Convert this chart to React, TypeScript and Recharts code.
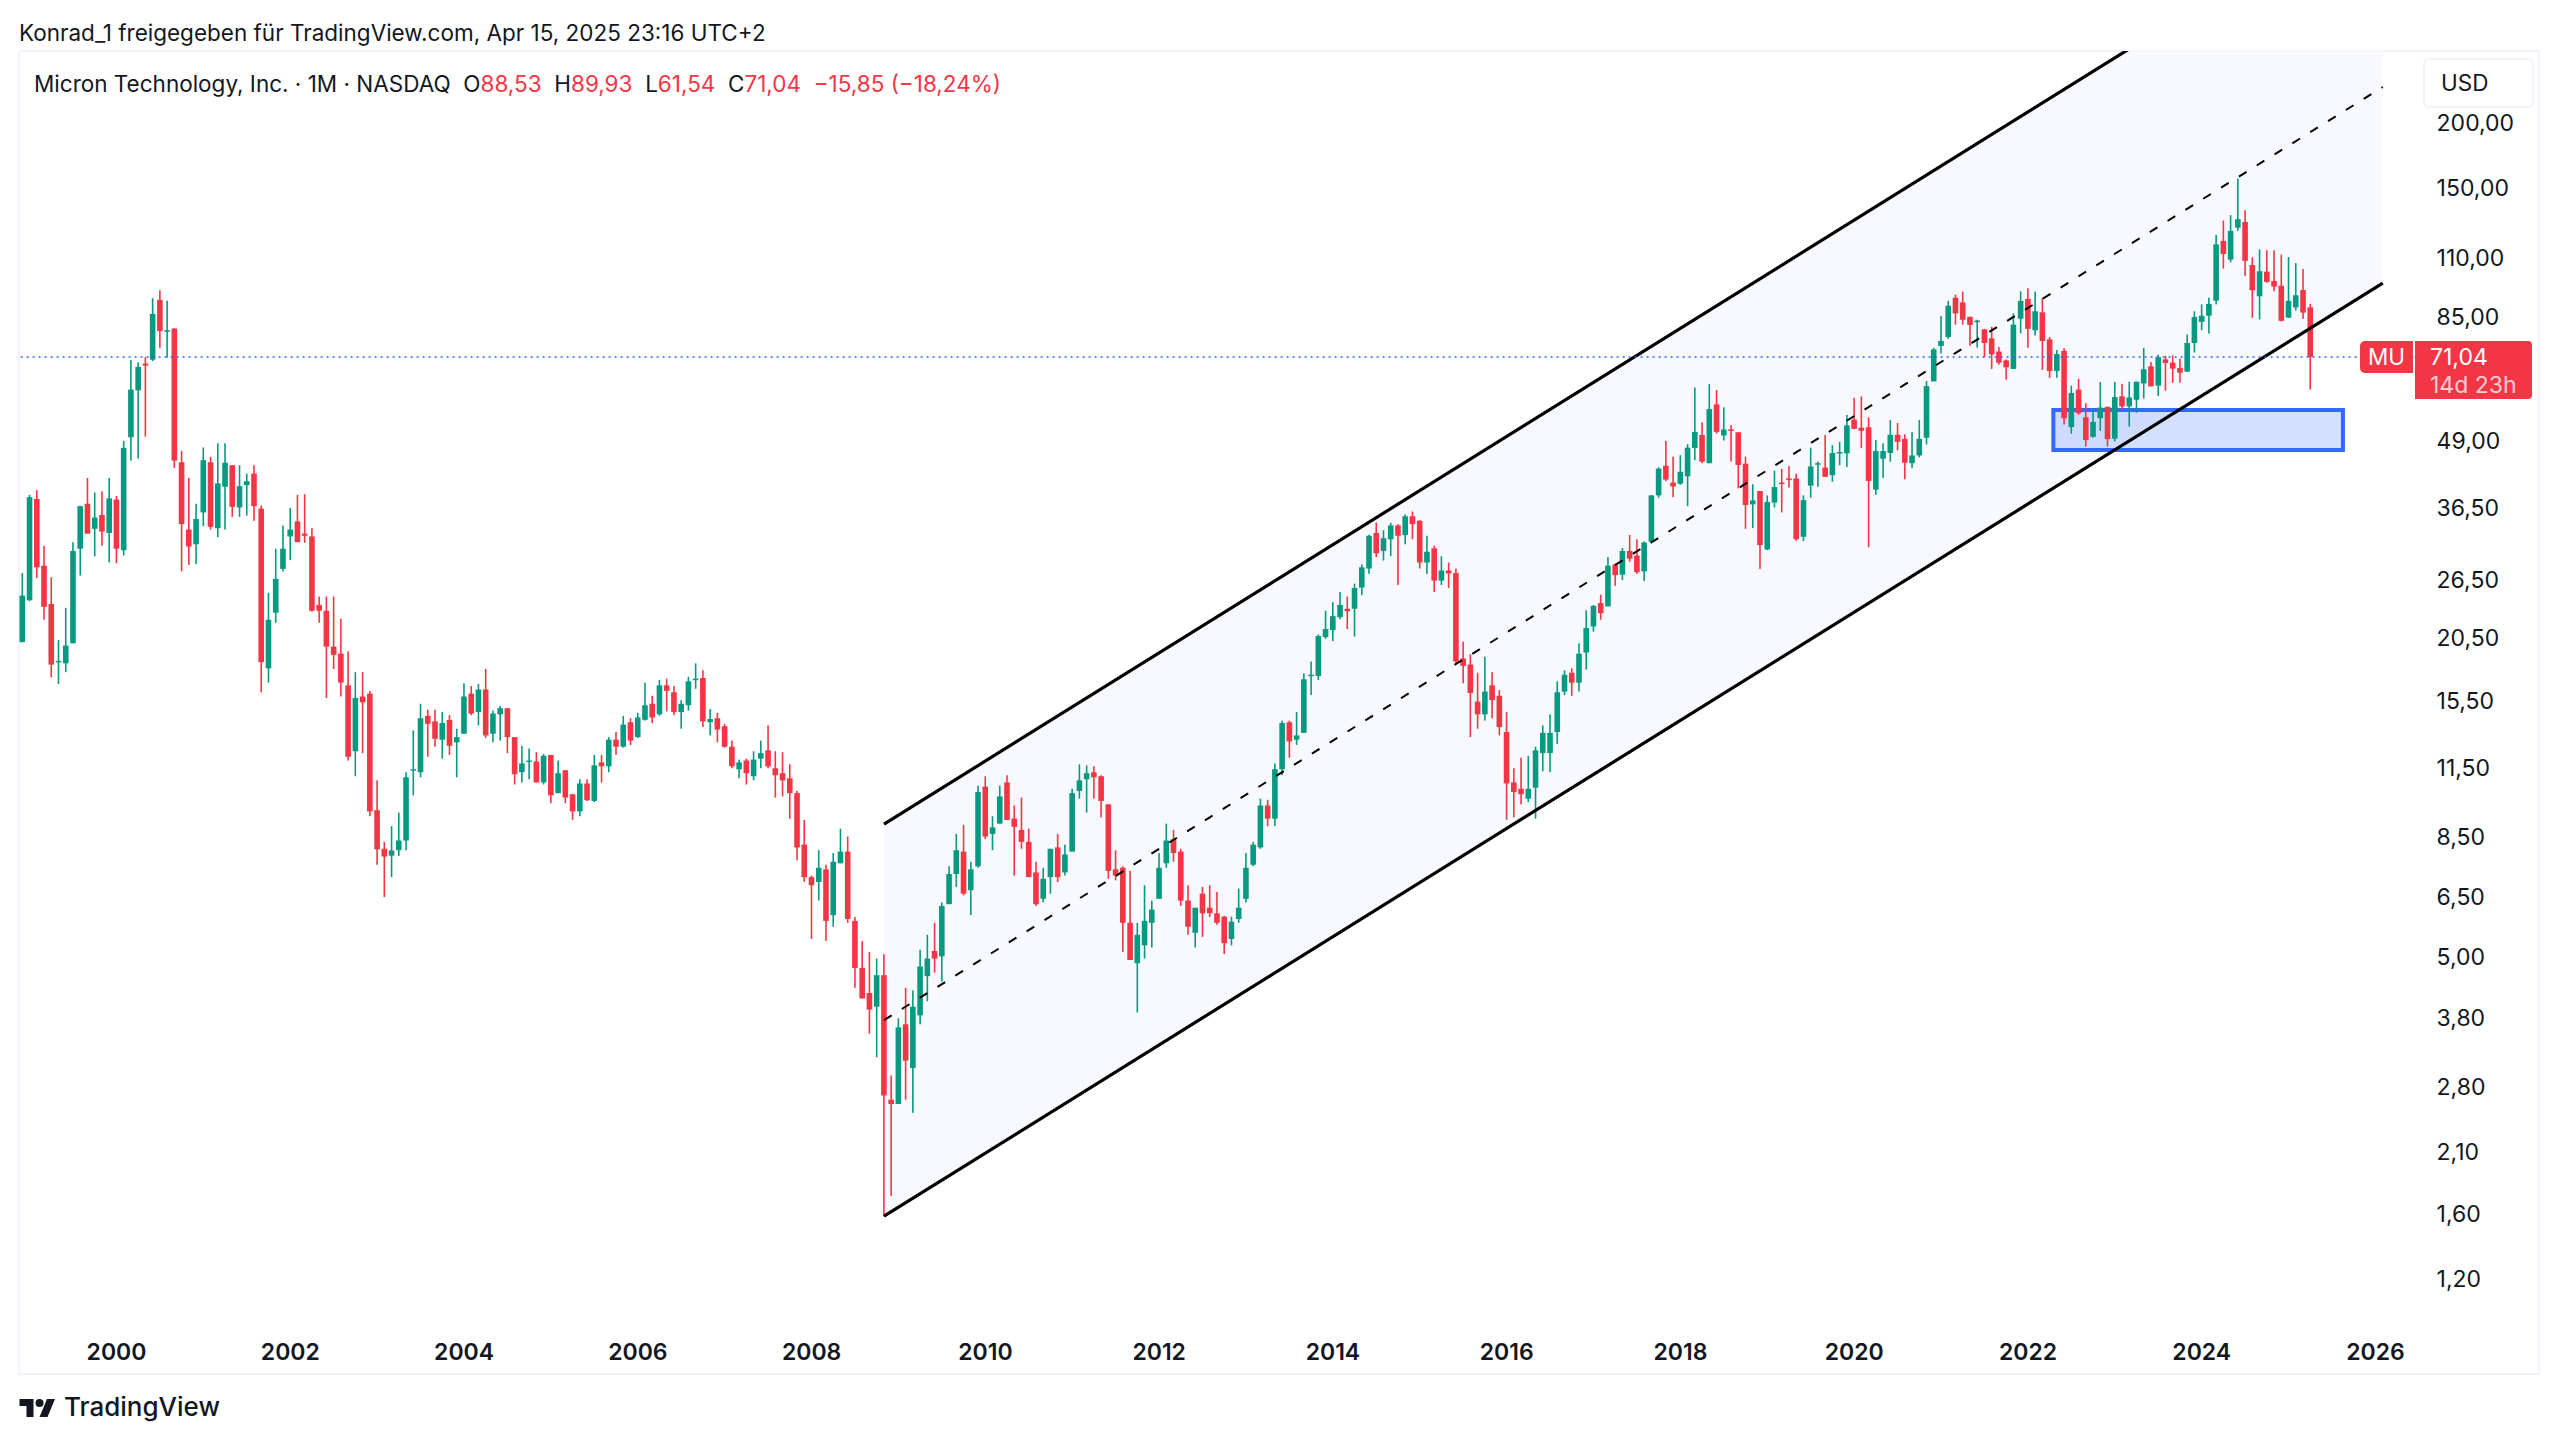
// MU monthly candles on a log price scale, with a hand-drawn parallel channel and demand zone.
import { Area, Bar, ComposedChart, Line, ReferenceArea, ReferenceLine, XAxis, YAxis } from 'recharts';

const FONT = 'Inter, "Liberation Sans", sans-serif';
const UP = '#089981';
const DOWN = '#f23645';
const INK = '#131722';

// Dec 1998 .. Apr 2025
const opens = [
  20.1, 24.2, 37.9, 28.2, 23.8, 18.4, 18.3, 20.0, 30.4, 37.1,
  33.2, 35.3, 32.6, 37.8, 30.2, 49.8, 61.3, 69.0, 70.2, 91.5,
  79.7, 80.6, 44.6, 33.1, 31.0, 35.7, 44.6, 33.3, 40.0, 44.0,
  36.5, 40.3, 42.4, 36.3, 17.9, 22.9, 27.8, 32.1, 34.3, 32.5,
  32.1, 23.7, 23.1, 19.7, 19.1, 16.6, 12.4, 15.8, 16.0, 9.55,
  8.05, 7.81, 8.0, 8.35, 11.4, 11.3, 14.5, 14.15, 13.05, 14.25,
  12.9, 13.4, 16.0, 14.75, 16.3, 13.4, 14.6, 15.0, 13.2, 11.3,
  11.85, 11.85, 10.8, 12.2, 10.3, 11.4, 10.25, 9.5, 10.75, 9.95,
  11.8, 11.6, 13.05, 12.65, 14.1, 13.2, 14.25, 15.3, 14.6, 16.6,
  16.1, 14.75, 15.2, 17.05, 17.15, 14.1, 14.35, 13.85, 12.65, 11.45,
  11.9, 11.1, 12.0, 12.45, 11.5, 11.25, 11.0, 10.3, 8.2, 7.1,
  6.95, 7.35, 6.0, 7.55, 7.95, 5.85, 4.75, 4.25, 4.0, 4.6,
  2.65, 2.6, 3.7, 3.05, 3.85, 4.58, 5.12, 5.0, 6.3, 7.2,
  7.95, 6.7, 7.45, 10.6, 8.6, 9.0, 10.8, 9.2, 8.75, 8.3,
  7.25, 6.45, 7.1, 8.1, 7.25, 7.95, 10.4, 10.95, 11.3, 11.1,
  9.8, 7.35, 7.4, 5.8, 4.85, 5.25, 5.8, 6.45, 7.55, 8.4,
  7.95, 6.4, 5.55, 6.6, 6.2, 6.05, 5.96, 5.4, 5.9, 6.45,
  7.5, 8.1, 9.75, 9.2, 11.45, 14.1, 13.05, 13.45, 17.3, 17.3,
  20.55, 21.2, 22.45, 23.3, 23.3, 25.6, 27.85, 32.6, 30.1, 31.7,
  33.7, 32.3, 35.1, 34.4, 28.6, 30.45, 26.4, 27.6, 27.3, 18.7,
  18.2, 15.45, 14.6, 16.6, 15.85, 13.5, 10.8, 10.5, 10.05, 10.55,
  12.3, 12.3, 13.5, 16.15, 17.55, 16.8, 19.2, 21.55, 23.9, 23.55,
  28.35, 27.1, 30.1, 29.5, 27.5, 31.35, 38.5, 43.9, 40.75, 40.55,
  41.9, 47.5, 50.3, 44.4, 57.6, 50.2, 51.55, 50.9, 44.3, 37.0,
  39.25, 30.3, 37.3, 40.75, 41.5, 41.5, 32.05, 40.2, 44.1, 43.55,
  42.1, 46.4, 46.4, 53.85, 51.95, 52.05, 39.5, 45.3, 46.45, 50.35,
  49.45, 44.4, 45.95, 49.7, 63.8, 74.6, 77.6, 92.4, 90.5, 84.9,
  83.1, 80.3, 77.2, 72.8, 70.0, 67.4, 84.2, 91.9, 80.0, 86.6,
  76.8, 66.8, 73.0, 52.1, 61.5, 54.4, 49.9, 54.2, 57.0, 49.5,
  59.7, 57.1, 58.8, 63.2, 68.2, 62.6, 70.3, 69.3, 67.7, 66.6,
  75.6, 83.0, 85.3, 91.2, 118.8, 109.4, 126.0, 129.2, 106.8, 93.0,
  103.7, 99.5, 97.4, 84.6, 88.5, 95.6, 88.53
];
const closes = [
  24.7, 38.2, 28.0, 23.5, 18.2, 18.5, 19.8, 30.1, 36.7, 32.5,
  34.9, 32.8, 38.0, 30.4, 47.5, 61.5, 68.0, 68.4, 86.0, 79.7,
  80.0, 44.9, 33.9, 30.7, 34.7, 45.0, 33.5, 40.6, 44.5, 36.6,
  40.1, 41.0, 36.7, 18.4, 22.2, 26.6, 30.4, 33.1, 31.3, 32.2,
  23.1, 23.1, 19.7, 19.0, 16.8, 12.1, 15.7, 15.4, 9.5, 8.03,
  7.78, 7.99, 8.35, 11.05, 11.45, 14.35, 14.0, 13.1, 14.05, 12.7,
  13.2, 15.8, 14.65, 16.3, 13.3, 14.65, 15.0, 13.2, 11.2, 11.75,
  11.9, 10.8, 12.15, 10.2, 11.25, 10.1, 9.5, 10.75, 9.98, 11.65,
  11.6, 13.05, 12.65, 13.95, 13.0, 14.4, 15.2, 14.4, 16.6, 16.2,
  14.75, 15.3, 16.9, 17.1, 14.15, 14.3, 13.65, 12.65, 11.6, 11.8,
  11.25, 11.95, 12.3, 11.6, 11.15, 10.9, 10.3, 8.1, 7.1, 6.85,
  7.4, 5.85, 7.6, 7.95, 5.9, 4.75, 4.15, 3.95, 4.6, 2.7,
  2.6, 3.65, 3.15, 4.0, 4.78, 4.95, 4.95, 6.25, 7.2, 8.0,
  6.6, 7.35, 10.35, 8.5, 8.85, 10.15, 9.15, 8.87, 8.3, 7.1,
  6.3, 7.05, 8.05, 7.1, 7.85, 10.3, 10.9, 11.25, 11.05, 9.95,
  7.3, 7.15, 5.8, 4.92, 5.5, 5.85, 6.15, 7.4, 8.35, 7.9,
  6.4, 5.7, 6.2, 6.05, 6.05, 5.8, 5.3, 5.83, 6.2, 7.4,
  8.2, 9.75, 9.2, 11.45, 14.05, 12.95, 13.3, 17.05, 17.4, 20.65,
  21.3, 22.55, 23.7, 23.05, 25.55, 28.0, 32.2, 29.8, 31.85, 33.7,
  32.2, 35.1, 33.9, 28.6, 30.0, 26.4, 27.6, 27.25, 18.45, 18.1,
  16.05, 14.6, 16.15, 15.55, 13.8, 10.75, 10.35, 10.25, 10.5, 12.45,
  13.45, 13.45, 16.1, 17.4, 16.8, 19.1, 21.4, 23.6, 22.85, 28.2,
  27.05, 30.1, 29.1, 27.4, 31.25, 38.5, 43.35, 41.3, 40.05, 42.75,
  47.55, 51.0, 44.7, 56.4, 51.0, 51.55, 51.3, 44.05, 36.9, 37.65,
  30.9, 37.4, 39.95, 40.5, 41.2, 31.7, 37.7, 43.75, 44.4, 41.8,
  46.45, 46.65, 52.5, 51.7, 51.25, 41.05, 46.85, 46.85, 50.35, 48.8,
  44.5, 45.95, 49.45, 62.45, 73.5, 76.3, 89.2, 86.2, 83.8, 81.9,
  83.5, 75.6, 71.9, 69.3, 67.9, 82.0, 91.1, 80.5, 87.0, 76.3,
  66.8, 72.0, 54.2, 60.6, 55.4, 49.2, 53.3, 56.8, 49.4, 59.5,
  57.1, 59.4, 63.7, 67.3, 62.4, 71.0, 69.2, 67.5, 66.3, 75.6,
  84.8, 85.3, 89.9, 117.0, 112.1, 124.2, 130.8, 108.8, 95.5, 103.9,
  99.1, 97.1, 83.4, 91.1, 93.4, 86.5, 71.04
];
const highs = [
  27.3, 38.6, 39.4, 30.8, 26.8, 20.3, 23.4, 31.3, 36.8, 41.6,
  39.0, 39.2, 41.6, 38.4, 49.0, 70.1, 69.4, 71.1, 92.2, 95.5,
  91.2, 80.7, 46.9, 41.6, 37.1, 47.6, 45.7, 48.5, 48.5, 44.0,
  44.0, 42.4, 44.0, 36.8, 25.0, 30.4, 33.7, 36.4, 38.6, 38.7,
  33.3, 24.6, 24.6, 24.6, 22.3, 19.3, 17.6, 17.6, 16.2, 10.9,
  8.3, 8.9, 9.45, 11.3, 13.6, 15.3, 14.9, 14.9, 14.75, 14.55,
  13.7, 16.75, 16.55, 16.7, 17.85, 14.85, 15.15, 15.0, 13.2, 12.7,
  12.55, 12.35, 12.25, 12.2, 11.9, 11.4, 10.25, 10.95, 10.95, 12.2,
  12.2, 13.2, 13.5, 14.5, 14.35, 14.7, 16.8, 15.85, 17.0, 17.1,
  16.55, 15.55, 17.25, 18.3, 17.75, 14.95, 14.7, 14.0, 13.0, 11.95,
  12.0, 12.4, 13.0, 13.9, 12.4, 12.35, 11.7, 10.4, 9.15, 7.15,
  8.0, 7.5, 7.9, 8.8, 8.5, 5.95, 5.35, 5.1, 4.95, 5.05,
  2.95, 3.8, 4.35, 4.3, 5.15, 5.5, 5.8, 6.35, 7.45, 8.6,
  8.95, 7.6, 10.65, 11.1, 9.3, 10.65, 11.15, 9.75, 10.1, 8.8,
  7.6, 7.4, 8.05, 8.6, 8.2, 10.5, 11.7, 11.65, 11.6, 11.15,
  9.8, 8.0, 7.45, 7.3, 5.8, 6.85, 6.4, 7.9, 9.0, 8.75,
  8.05, 6.85, 6.2, 6.8, 6.85, 6.65, 5.98, 5.96, 6.75, 7.9,
  8.3, 10.05, 10.0, 11.75, 14.2, 14.2, 14.75, 17.5, 18.45, 20.8,
  23.1, 24.0, 25.1, 24.6, 26.05, 28.35, 32.35, 34.15, 33.0, 34.1,
  33.9, 35.4, 35.85, 34.5, 32.2, 30.8, 29.4, 28.6, 27.85, 20.15,
  19.05, 17.55, 18.85, 17.6, 16.25, 14.75, 11.5, 12.05, 12.15, 12.65,
  13.9, 14.6, 16.9, 17.75, 17.9, 20.0, 23.15, 23.7, 24.8, 29.3,
  28.45, 30.5, 32.3, 31.7, 31.4, 38.5, 43.6, 49.0, 45.7, 46.0,
  48.3, 62.1, 53.2, 63.0, 61.4, 56.85, 52.55, 50.9, 45.7, 40.45,
  39.25, 38.5, 42.95, 43.3, 43.85, 42.4, 38.5, 47.55, 44.7, 50.3,
  48.1, 48.8, 55.0, 59.3, 59.65, 54.4, 49.2, 48.5, 53.75, 53.05,
  50.45, 51.0, 53.75, 63.9, 74.0, 85.2, 91.1, 93.7, 94.9, 84.9,
  83.8, 80.5, 81.2, 74.3, 70.3, 86.2, 95.0, 96.3, 94.9, 92.2,
  77.6, 73.3, 73.9, 62.6, 64.5, 57.9, 56.4, 63.6, 57.0, 63.6,
  63.1, 63.7, 63.7, 74.0, 69.5, 71.8, 71.4, 71.6, 70.5, 78.5,
  87.0, 89.7, 92.4, 122.0, 130.0, 133.2, 156.6, 136.1, 110.5, 114.4,
  114.0, 114.0, 111.8, 110.6, 107.7, 104.9, 89.93
];
const lows = [
  20.1, 24.1, 26.7, 22.2, 17.2, 16.7, 17.6, 20.0, 27.0, 32.5,
  29.4, 30.8, 28.6, 28.5, 29.5, 44.9, 45.3, 49.9, 69.8, 74.0,
  70.8, 43.5, 27.5, 28.3, 28.4, 33.6, 33.1, 32.0, 33.1, 35.0,
  35.0, 35.2, 34.4, 16.1, 16.8, 21.9, 27.5, 28.9, 31.3, 31.2,
  23.0, 21.9, 15.7, 17.85, 15.8, 11.9, 11.1, 12.3, 9.3, 7.5,
  6.5, 7.1, 7.8, 8.0, 10.2, 11.05, 12.1, 12.65, 12.0, 12.2,
  11.05, 13.4, 14.55, 13.9, 13.15, 12.9, 13.0, 12.3, 10.7, 10.8,
  10.95, 10.8, 10.7, 9.85, 10.3, 9.85, 9.15, 9.3, 9.95, 9.9,
  10.8, 11.3, 12.2, 12.6, 12.75, 13.15, 14.2, 14.05, 14.5, 14.8,
  14.55, 13.7, 14.85, 16.35, 13.8, 13.3, 12.9, 12.6, 11.5, 11.0,
  10.7, 10.9, 11.5, 11.5, 10.1, 10.15, 9.2, 7.65, 6.95, 5.4,
  6.4, 5.35, 5.7, 7.55, 5.8, 4.35, 4.15, 3.55, 3.2, 1.58,
  1.73, 2.6, 2.65, 2.5, 3.7, 4.1, 4.65, 4.47, 6.3, 6.8,
  6.55, 6.0, 7.4, 8.4, 8.0, 9.0, 9.15, 7.15, 8.05, 7.1,
  6.25, 6.35, 6.6, 6.95, 7.15, 7.95, 10.05, 9.45, 10.05, 9.25,
  7.05, 7.0, 5.1, 4.92, 3.9, 4.95, 5.2, 6.45, 7.4, 7.6,
  6.25, 5.5, 5.2, 5.45, 5.95, 5.75, 5.05, 5.25, 5.8, 6.35,
  7.45, 8.05, 8.9, 8.9, 11.15, 12.05, 12.75, 13.45, 15.9, 17.0,
  20.4, 20.2, 22.25, 21.3, 20.6, 24.75, 27.2, 29.3, 28.85, 29.45,
  25.9, 31.0, 31.7, 27.85, 27.2, 25.1, 25.9, 25.55, 18.35, 16.75,
  13.2, 13.7, 14.2, 14.35, 13.3, 9.15, 9.25, 9.8, 9.9, 9.2,
  11.35, 11.3, 12.8, 15.9, 15.85, 16.15, 17.8, 21.05, 22.2, 23.55,
  25.8, 26.45, 28.7, 27.2, 26.35, 31.25, 38.1, 41.0, 38.2, 40.35,
  36.7, 45.0, 44.4, 44.4, 50.6, 49.1, 44.75, 39.7, 33.2, 33.3,
  27.8, 30.2, 36.5, 35.7, 39.85, 31.5, 31.45, 38.1, 40.0, 41.8,
  40.9, 44.0, 43.65, 51.6, 47.45, 30.6, 38.6, 41.6, 44.7, 47.0,
  41.35, 43.45, 45.55, 48.25, 63.8, 72.2, 77.0, 82.0, 82.0, 74.7,
  74.1, 71.0, 67.4, 68.7, 64.3, 67.4, 78.9, 74.0, 78.2, 67.1,
  64.8, 64.8, 52.7, 50.6, 55.0, 47.8, 49.7, 51.2, 47.8, 48.9,
  56.3, 52.2, 55.5, 59.1, 62.4, 59.8, 61.2, 63.4, 63.4, 66.5,
  72.5, 80.0, 78.8, 89.7, 105.1, 108.0, 124.3, 101.7, 84.5, 83.9,
  98.7, 95.0, 83.2, 84.5, 87.3, 84.1, 61.54
];

const priceTicks = [200, 150, 110, 85, 49, 36.5, 26.5, 20.5, 15.5, 11.5, 8.5, 6.5, 5, 3.8, 2.8, 2.1, 1.6, 1.2];
const yearTicks = ['2000', '2002', '2004', '2006', '2008', '2010', '2012', '2014', '2016', '2018', '2020', '2022', '2024', '2026'];

// channel anchors: month index and price at both ends
const channelMonths = [119, 326];
const channelUpper = [8.98, 559.5];
const channelMiddle = [3.77, 234.9];
const channelLower = [1.582, 98.6];

const zoneMonths = [281, 320];
const zonePrices = [47.05, 56.2];
const lastPrice = 71.04;

const EXTRA_MONTHS = 15; // blank months right of the last candle

function monthKey(i: number) {
  const total = 1998 * 12 + 11 + i;
  const year = Math.floor(total / 12);
  const month = total % 12;
  return month === 0 ? String(year) : `${year}-${month + 1}`;
}

const rows = Array.from({ length: opens.length + EXTRA_MONTHS }, (_, i) => {
  const row: Record<string, unknown> = { month: monthKey(i) };
  if (i < opens.length) {
    row.range = [lows[i], highs[i]];
    row.open = opens[i];
    row.close = closes[i];
    row.high = highs[i];
    row.low = lows[i];
  }
  const end = channelMonths.indexOf(i);
  if (end >= 0) {
    row.upper = channelUpper[end];
    row.middle = channelMiddle[end];
    row.lower = channelLower[end];
    row.band = [channelLower[end], channelUpper[end]];
  }
  return row;
});

function Candle(props: any) {
  const { x, y, width, height, payload } = props;
  if (payload?.open === undefined) return null;
  const { open, close, high, low } = payload;
  const h = Math.abs(height);
  // bar spans low..high on a log axis, so place the body by log ratio
  const toY = (p: number) => y + (h * Math.log(high / p)) / Math.log(high / low);
  const top = toY(Math.max(open, close));
  const bottom = toY(Math.min(open, close));
  const cx = x + width / 2;
  const color = close >= open ? UP : DOWN;
  return (
    <g>
      <rect x={cx - 0.8} y={y} width={1.6} height={h} fill={color} />
      <rect x={cx - 2.8} y={top} width={5.6} height={Math.max(bottom - top, 1.5)} fill={color} />
    </g>
  );
}

const abs = (left: number, top: number): React.CSSProperties => ({ position: 'absolute', left, top, whiteSpace: 'pre' });
const num = (v: string) => <span style={{ color: DOWN }}>{v}</span>;

export default function App() {
  return (
    <div style={{ position: 'absolute', left: 0, top: 0, width: 2560, height: 1442, background: '#fff', overflow: 'hidden', fontFamily: FONT, color: INK }}>
      <div style={{ ...abs(18, 50), width: 2522, height: 1325, border: '2px solid #f0f3fa', boxSizing: 'border-box' }} />
      <div style={{ position: 'absolute', left: 0, top: 0 }}>
        <ComposedChart
          width={2560}
          height={1442}
          data={rows}
          barCategoryGap={0}
          margin={{ top: 51, right: 19.4, bottom: 67, left: 18.8 }}
        >
          <XAxis
            dataKey='month'
            ticks={yearTicks}
            interval={0}
            axisLine={false}
            tickLine={false}
            height={55}
            tickMargin={18}
            tick={{ fontSize: 23, fontWeight: 600, fill: INK, fontFamily: FONT }}
          />
          <YAxis
            orientation='right'
            scale='log'
            domain={[0.999, 275.5]}
            allowDataOverflow
            ticks={priceTicks}
            interval={0}
            width={118}
            axisLine={false}
            tickLine={false}
            tickMargin={8}
            tickFormatter={(v: number) => v.toFixed(2).replace('.', ',')}
            tick={{ fontSize: 23, fill: INK, fontFamily: FONT }}
          />
          <Area
            dataKey='band'
            type='linear'
            connectNulls
            fill='#f8f9fe'
            fillOpacity={1}
            stroke='none'
            dot={false}
            activeDot={false}
            isAnimationActive={false}
          />
          <ReferenceArea
            x1={monthKey(zoneMonths[0])}
            x2={monthKey(zoneMonths[1])}
            y1={zonePrices[0]}
            y2={zonePrices[1]}
            fill='#2962ff'
            fillOpacity={0.2}
            stroke='#2962ff'
            strokeWidth={4}
            strokeOpacity={0.95}
          />
          <Line dataKey='upper' type='linear' connectNulls stroke='#000' strokeWidth={3.2} dot={false} activeDot={false} isAnimationActive={false} />
          <Line dataKey='lower' type='linear' connectNulls stroke='#000' strokeWidth={3.2} dot={false} activeDot={false} isAnimationActive={false} />
          <Line dataKey='middle' type='linear' connectNulls stroke='#000' strokeWidth={2} strokeDasharray='9 12' dot={false} activeDot={false} isAnimationActive={false} />
          <ReferenceLine y={lastPrice} stroke='#2962ff' strokeWidth={1.5} strokeDasharray='2 4' />
          <Bar dataKey='range' shape={Candle} isAnimationActive={false} />
        </ComposedChart>
      </div>

      <div style={{ ...abs(19, 19), fontSize: 22.5, lineHeight: '28px' }}>Konrad_1 freigegeben für TradingView.com, Apr 15, 2025 23:16 UTC+2</div>
      <div style={{ ...abs(34, 70), fontSize: 22.5, lineHeight: '28px' }}>
        Micron Technology, Inc. · 1M · NASDAQ{'  '}O{num('88,53')}{'  '}H{num('89,93')}{'  '}L{num('61,54')}{'  '}C{num('71,04')}{'  '}{num('−15,85 (−18,24%)')}
      </div>

      <div style={{ ...abs(2423, 58), width: 111, height: 50, border: '2px solid #f0f3fa', borderRadius: 6, boxSizing: 'border-box', fontSize: 22.5, lineHeight: '46px', paddingLeft: 16 }}>USD</div>

      <div style={{ ...abs(2360, 341), width: 53, height: 32, background: DOWN, color: '#fff', borderRadius: '5px 0 0 5px', fontSize: 22.5, lineHeight: '32px', textAlign: 'center' }}>MU</div>
      <div style={{ ...abs(2415, 341), width: 117, height: 58, background: DOWN, color: '#fff', borderRadius: '0 4px 4px 0', fontSize: 23, lineHeight: '28px', paddingLeft: 15, boxSizing: 'border-box', paddingTop: 2 }}>
        71,04
        <div style={{ opacity: 0.75 }}>14d 23h</div>
      </div>

      <svg style={abs(19, 1394.6)} width={37} height={28} viewBox='0 0 36 28' fill={INK}>
        <path d='M14 22H7V11H0V4h14v18zM28 22h-8l7.5-18h8L28 22z' />
        <circle cx={20} cy={8} r={4} />
      </svg>
      <div style={{ ...abs(64, 1392), fontSize: 26, lineHeight: '30px', fontWeight: 500 }}>TradingView</div>
    </div>
  );
}
